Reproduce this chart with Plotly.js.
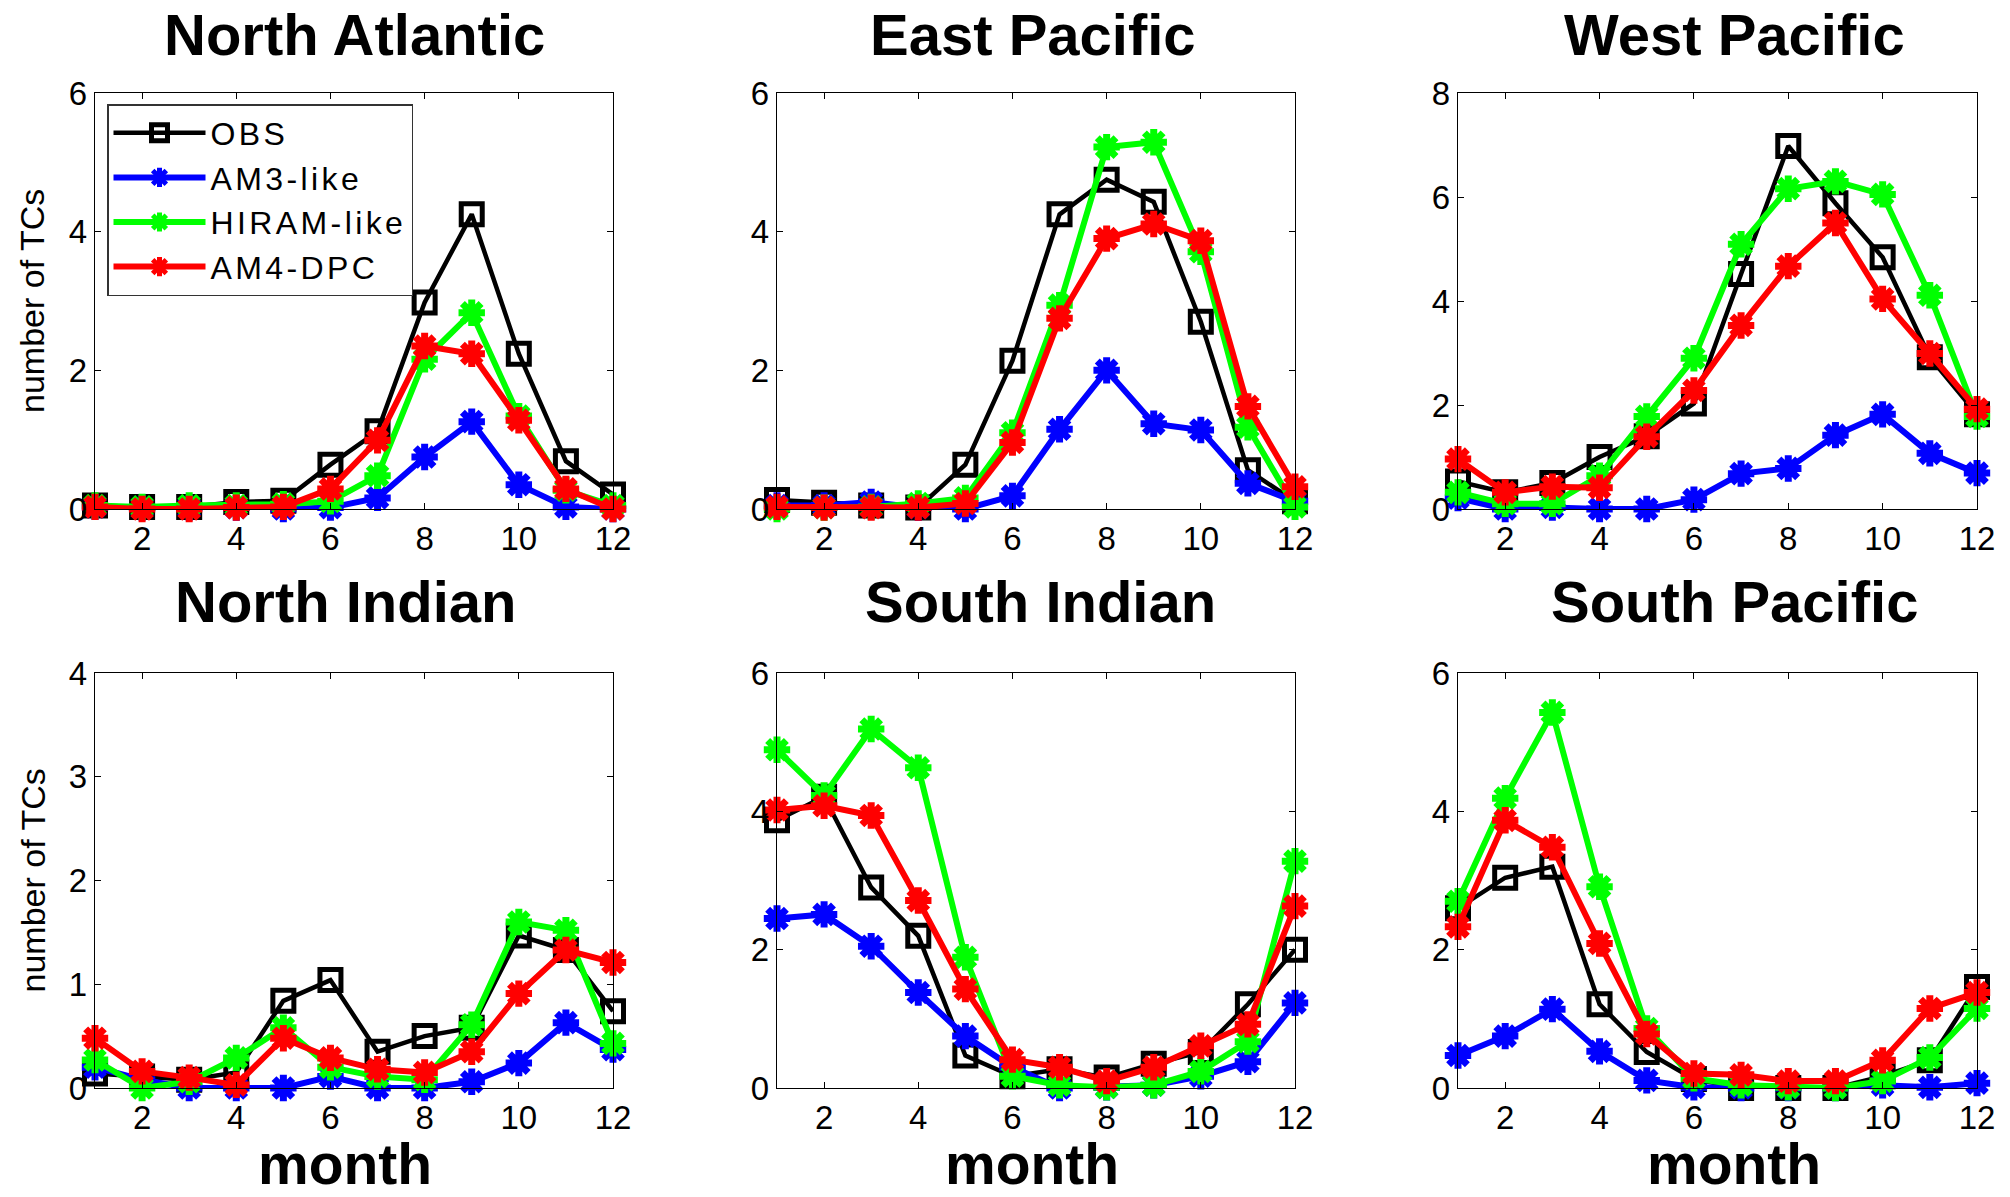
<!DOCTYPE html>
<html>
<head>
<meta charset="utf-8">
<script src="https://cdn.plot.ly/plotly-3.0.1.min.js"></script>
<style>
html,body{margin:0;padding:0;background:#ffffff;}
#chart{width:2010px;height:1197px;}
.legendtext{letter-spacing:3.4px;}
</style>
</head>
<body>
<div id="chart"></div>
<script>
// ---------------- DATA ----------------
const months = [1,2,3,4,5,6,7,8,9,10,11,12];
const seriesNames = ['OBS','AM3-like','HIRAM-like','AM4-DPC'];
const regionTitles = ['North Atlantic','East Pacific','West Pacific','North Indian','South Indian','South Pacific'];
const xTickValues = [2,4,6,8,10,12];
const xTickLabels = ['2','4','6','8','10','12'];
const yRanges = [[0,6],[0,6],[0,8],[0,4],[0,6],[0,6]];
const yTickSteps = [2,2,2,1,2,2];
const yAxisLabel = 'number of TCs';
const xAxisLabel = 'month';

// North Atlantic
const northAtlanticOBS   = [0.05,0.03,0.03,0.10,0.12,0.64,1.12,2.98,4.25,2.24,0.69,0.21];
const northAtlanticAM3   = [0.03,0.02,0.02,0.02,0.00,0.02,0.16,0.75,1.26,0.35,0.03,0.00];
const northAtlanticHIRAM = [0.05,0.03,0.05,0.05,0.07,0.11,0.48,2.16,2.83,1.34,0.27,0.05];
const northAtlanticAM4   = [0.03,0.00,0.00,0.02,0.03,0.29,0.99,2.35,2.24,1.28,0.29,0.00];
// East Pacific
const eastPacificOBS   = [0.13,0.09,0.05,0.02,0.64,2.14,4.25,4.75,4.43,2.70,0.56,0.11];
const eastPacificAM3   = [0.05,0.05,0.10,0.02,0.00,0.19,1.15,2.00,1.23,1.14,0.37,0.11];
const eastPacificHIRAM = [0.00,0.02,0.03,0.08,0.16,1.10,2.94,5.22,5.29,3.71,1.18,0.03];
const eastPacificAM4   = [0.03,0.02,0.02,0.02,0.08,0.96,2.75,3.90,4.11,3.87,1.48,0.32];
// West Pacific
const westPacificOBS   = [0.53,0.32,0.50,1.00,1.40,2.03,4.52,6.98,5.88,4.84,2.92,1.82];
const westPacificAM3   = [0.21,0.00,0.03,0.00,0.00,0.18,0.68,0.78,1.42,1.82,1.07,0.69];
const westPacificHIRAM = [0.32,0.10,0.10,0.64,1.78,2.90,5.09,6.16,6.30,6.05,4.11,1.78];
const westPacificAM4   = [0.96,0.32,0.43,0.41,1.39,2.28,3.53,4.67,5.50,4.04,2.99,1.92];
// North Indian
const northIndianOBS   = [0.14,0.11,0.08,0.15,0.84,1.04,0.35,0.50,0.58,1.47,1.33,0.74];
const northIndianAM3   = [0.20,0.08,0.00,0.00,0.00,0.11,0.00,0.00,0.06,0.24,0.63,0.37];
const northIndianHIRAM = [0.27,0.00,0.06,0.29,0.58,0.20,0.11,0.08,0.61,1.60,1.52,0.43];
const northIndianAM4   = [0.48,0.16,0.10,0.03,0.48,0.29,0.18,0.15,0.35,0.91,1.33,1.21];
// South Indian
const southIndianOBS   = [3.87,4.21,2.90,2.20,0.47,0.17,0.27,0.15,0.35,0.52,1.21,2.00];
const southIndianAM3   = [2.45,2.51,2.05,1.38,0.75,0.30,0.00,0.01,0.04,0.17,0.38,1.23];
const southIndianHIRAM = [4.89,4.23,5.19,4.63,1.89,0.17,0.04,0.01,0.04,0.24,0.67,3.28];
const southIndianAM4   = [4.02,4.08,3.94,2.71,1.43,0.41,0.30,0.10,0.30,0.61,0.92,2.63];
// South Pacific
const southPacificOBS   = [2.60,3.04,3.20,1.21,0.52,0.13,0.00,0.00,0.00,0.17,0.40,1.46];
const southPacificAM3   = [0.47,0.75,1.14,0.53,0.11,0.01,0.00,0.00,0.00,0.04,0.01,0.07];
const southPacificHIRAM = [2.70,4.19,5.43,2.91,0.86,0.14,0.04,0.01,0.00,0.10,0.44,1.15];
const southPacificAM4   = [2.33,3.87,3.48,2.09,0.78,0.21,0.19,0.10,0.10,0.40,1.15,1.38];

const panelSeries = [
  [northAtlanticOBS, northAtlanticAM3, northAtlanticHIRAM, northAtlanticAM4],
  [eastPacificOBS, eastPacificAM3, eastPacificHIRAM, eastPacificAM4],
  [westPacificOBS, westPacificAM3, westPacificHIRAM, westPacificAM4],
  [northIndianOBS, northIndianAM3, northIndianHIRAM, northIndianAM4],
  [southIndianOBS, southIndianAM3, southIndianHIRAM, southIndianAM4],
  [southPacificOBS, southPacificAM3, southPacificHIRAM, southPacificAM4]
];

// ---------------- STYLE / LAYOUT ----------------
const W = 2010, H = 1197;
const FONT = '"Liberation Sans", Arial, Helvetica, sans-serif';
const colors = ['#000000','#0000ff','#00ff00','#ff0000'];
const colPx = [[95,613],[777,1295],[1458,1977]];
const rowPx = [[93,509],[673,1088]];
const titleTopPx = [0,567];
const titleCenterX = [354,1033,1734,346,1040,1734];
const monthCenterX = [345,1032,1734];

const px2x = p => p / W;
const px2y = p => 1 - p / H;

const data = [];
const layout = {
  width: W, height: H,
  margin: {l:0, r:0, t:0, b:0},
  paper_bgcolor: '#ffffff',
  plot_bgcolor: '#ffffff',
  font: {family: FONT, color: '#000000', size: 33},
  showlegend: true,
  legend: {
    x: px2x(107), y: px2y(104), xanchor: 'left', yanchor: 'top',
    bgcolor: '#ffffff', bordercolor: '#333333', borderwidth: 1.5,
    font: {family: FONT, size: 32, color: '#000000'},
    itemwidth: 92,
    tracegroupgap: 0
  },
  annotations: []
};

for (let p = 0; p < 6; p++) {
  const r = Math.floor(p / 3), c = p % 3;
  const ax = p === 0 ? '' : String(p + 1);
  const yMax = yRanges[p][1];
  const yTicks = [];
  for (let v = 0; v <= yMax + 1e-9; v += yTickSteps[p]) yTicks.push(v);

  layout['xaxis' + ax] = {
    domain: [px2x(colPx[c][0]), px2x(colPx[c][1])],
    anchor: 'y' + ax,
    range: [1, 12],
    tickvals: xTickValues, ticktext: xTickLabels,
    ticks: 'inside', ticklen: 6, tickwidth: 1, tickcolor: '#000000',
    showline: true, linecolor: '#000000', linewidth: 1.3, mirror: 'ticks',
    showgrid: false, zeroline: false,
    tickfont: {family: FONT, size: 33, color: '#000000'},
    ticklabelstandoff: 0,
    fixedrange: true
  };
  layout['yaxis' + ax] = {
    domain: [px2y(rowPx[r][1]), px2y(rowPx[r][0])],
    anchor: 'x' + ax,
    range: yRanges[p],
    tickvals: yTicks,
    ticks: 'inside', ticklen: 6, tickwidth: 1, tickcolor: '#000000',
    showline: true, linecolor: '#000000', linewidth: 1.3, mirror: 'ticks',
    showgrid: false, zeroline: false,
    tickfont: {family: FONT, size: 33, color: '#000000'},
    ticklabelstandoff: 0,
    fixedrange: true
  };

  for (let s = 0; s < 4; s++) {
    const isObs = s === 0;
    data.push({
      type: 'scatter', mode: 'lines+markers',
      x: months, y: panelSeries[p][s],
      xaxis: 'x' + ax, yaxis: 'y' + ax,
      name: seriesNames[s],
      legendgroup: seriesNames[s],
      showlegend: p === 0,
      cliponaxis: false,
      line: {color: colors[s], width: isObs ? 4.5 : 6},
      marker: isObs
        ? {symbol: 'square-open', size: 21, color: colors[s], line: {color: colors[s], width: 5}}
        : {symbol: 'asterisk-open', size: 22, color: colors[s], line: {color: colors[s], width: 7}}
    });
  }

  layout.annotations.push({
    xref: 'paper', yref: 'paper',
    x: px2x(titleCenterX[p]), y: px2y(titleTopPx[r]),
    xanchor: 'center', yanchor: 'top',
    text: '<b>' + regionTitles[p] + '</b>', showarrow: false,
    font: {family: FONT, size: 58, color: '#000000'}
  });
  if (r === 1) {
    layout.annotations.push({
      xref: 'paper', yref: 'paper',
      x: px2x(monthCenterX[c]), y: 0,
      xanchor: 'center', yanchor: 'bottom', borderpad: 0,
      text: '<b>' + xAxisLabel + '</b>', showarrow: false,
      font: {family: FONT, size: 57, color: '#000000'}
    });
  }
  if (c === 0) {
    layout.annotations.push({
      xref: 'paper', yref: 'paper',
      x: px2x(32), y: px2y((rowPx[r][0] + rowPx[r][1]) / 2),
      xanchor: 'center', yanchor: 'middle', textangle: -90,
      text: yAxisLabel, showarrow: false,
      font: {family: FONT, size: 34, color: '#000000'}
    });
  }
}

Plotly.newPlot('chart', data, layout, {displayModeBar: false, staticPlot: true});
</script>
</body>
</html>
